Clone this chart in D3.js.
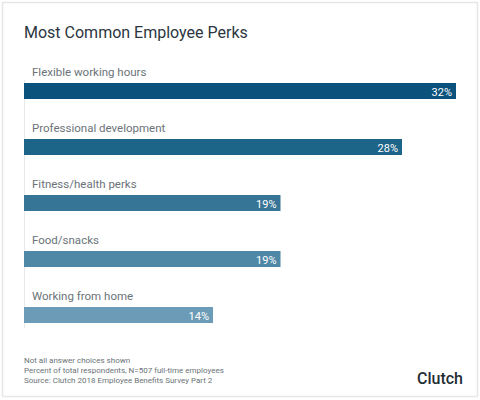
<!DOCTYPE html>
<html><head><meta charset="utf-8">
<script src="https://cdn.jsdelivr.net/npm/d3@7"></script>
<style>body{margin:0;background:#fff;font-family:Roboto,sans-serif}</style>
</head><body><svg id="c" width="480" height="400"></svg>
<script>
const categories=["Flexible working hours","Professional development","Fitness/health perks","Food/snacks","Working from home"];
const values=[32,28,19,19,14];
const colors=["#0b527d","#1d6489","#377597","#4f88a7","#6b9bb6"];
const notes=["Not all answer choices shown","Percent of total respondents, N=507 full-time employees","Source: Clutch 2018 Employee Benefits Survey Part 2"];
const svg=d3.select("#c");
svg.append("rect").attr("x",2.5).attr("y",2.5).attr("width",475).attr("height",394).attr("fill","#fff").attr("stroke","#e6e6e6").attr("stroke-width",1.5);
svg.append("text").attr("x",24).attr("y",38).attr("font-size",16).attr("fill","#2b3640").text("Most Common Employee Perks");
const x=d3.scaleLinear().domain([0,32]).range([24,456]);
const y=d3.scaleBand().domain(categories).range([83,363]).paddingInner(0);
svg.append("line").attr("x1",24.5).attr("x2",24.5).attr("y1",80).attr("y2",328).attr("stroke","#e8e8e8");
const g=svg.selectAll("g.b").data(categories).join("g");
g.append("rect").attr("x",x(0)).attr("y",d=>y(d)).attr("width",(d,i)=>x(values[i])-x(0)).attr("height",16).attr("fill",(d,i)=>colors[i]);
g.append("text").attr("x",32).attr("y",d=>y(d)-7).attr("font-size",11.5).attr("fill","#6b7378").text(d=>d);
g.append("text").attr("x",(d,i)=>x(values[i])-4).attr("y",d=>y(d)+12.5).attr("text-anchor","end").attr("font-size",11).attr("fill","#fff").text((d,i)=>values[i]+"%");
svg.selectAll("text.n").data(notes).join("text").attr("x",24).attr("y",(d,i)=>363+i*10).attr("font-size",8).attr("fill","#6b7378").text(d=>d);
svg.append("text").attr("x",463).attr("y",384).attr("text-anchor","end").attr("font-size",16).attr("font-weight",500).attr("fill","#1f2d33").text("Clutch");
</script></body></html>
